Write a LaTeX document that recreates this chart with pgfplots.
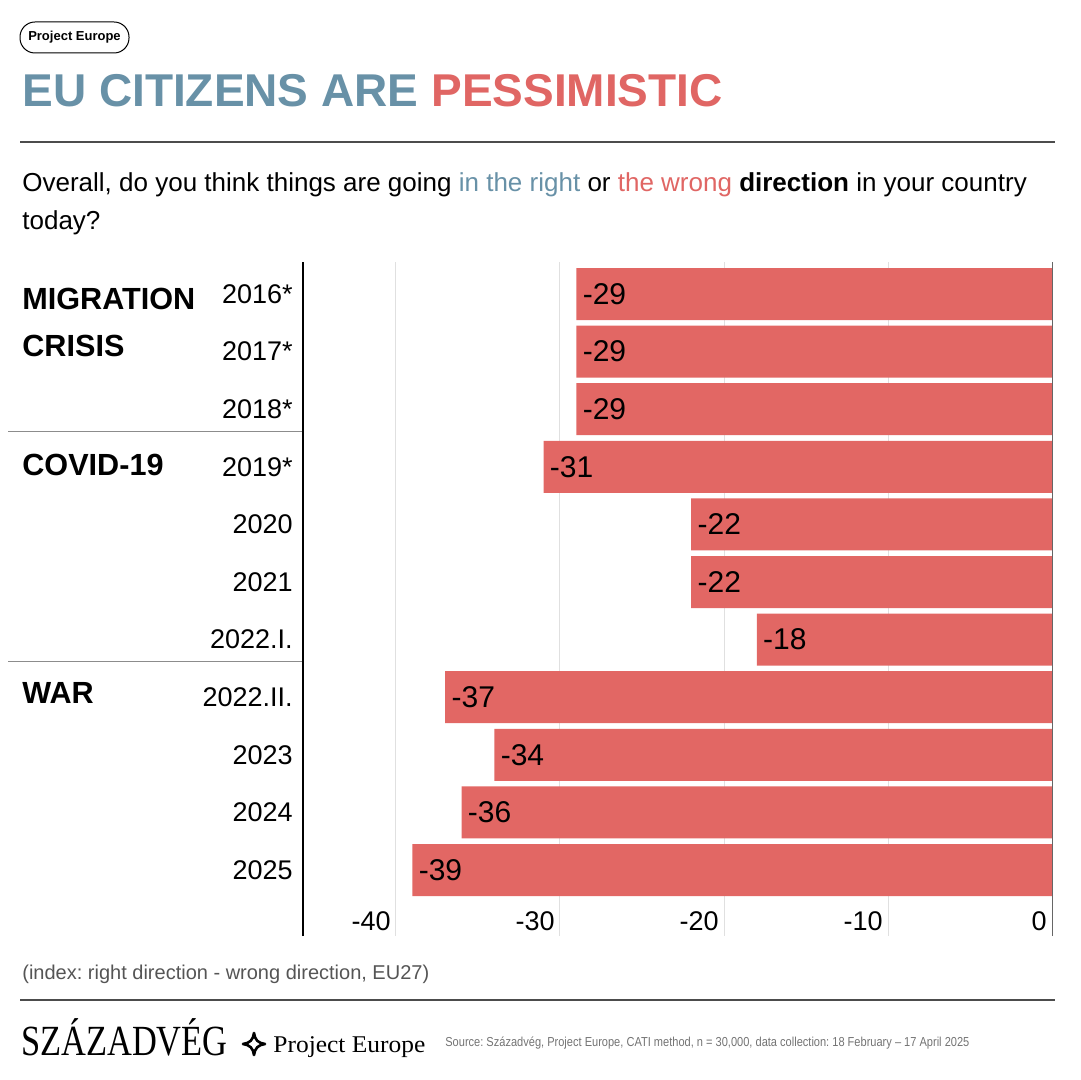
\documentclass[border=0pt]{standalone}
\usepackage{fontspec}
\setmainfont{Liberation Sans}
\newfontfamily\serifcond{Liberation Serif}
\usepackage{pgfplots}
\pgfplotsset{compat=1.18}
\definecolor{tblue}{HTML}{6891A7}
\definecolor{tred}{HTML}{E06664}
\definecolor{barred}{HTML}{E26764}
\definecolor{notegray}{HTML}{555555}
\frenchspacing
\begin{document}
\begin{tikzpicture}
\begin{scope}[x=0.5pt,y=-0.5pt]
\path (0,0) rectangle (1080,1080);
% badge
\draw[black, line width=0.5pt, rounded corners=7.5pt] (20,22) rectangle (129,53);
\node[font=\bfseries\fontsize{6.5}{7}\selectfont, anchor=center, inner sep=0pt] at (74.5,37.5) {Project Europe};
% title
\node[anchor=base west, inner sep=0pt, font=\bfseries\fontsize{23}{27}\selectfont] at (22,107) {\textcolor{tblue}{EU CITIZENS ARE} \textcolor{tred}{PESSIMISTIC}};
\draw[black!70, line width=0.75pt] (20,142) -- (1055,142);
% subtitle
\node[anchor=base west, inner sep=0pt, font=\fontsize{13}{19}\selectfont] at (22,192) {Overall, do you think things are going \textcolor{tblue}{in the right} or \textcolor{tred}{the wrong} \textbf{direction} in your country};
\node[anchor=base west, inner sep=0pt, font=\fontsize{13}{19}\selectfont] at (22,230) {today?};
% group labels
\node[anchor=base west, inner sep=0pt, font=\bfseries\fontsize{15.3}{18}\selectfont] at (22,310) {MIGRATION};
\node[anchor=base west, inner sep=0pt, font=\bfseries\fontsize{15.3}{18}\selectfont] at (22,357) {CRISIS};
\node[anchor=base west, inner sep=0pt, font=\bfseries\fontsize{15.3}{18}\selectfont] at (22,475) {COVID-19};
\node[anchor=base west, inner sep=0pt, font=\bfseries\fontsize{15.3}{18}\selectfont] at (22,703) {WAR};
% separators
\draw[black!45, line width=0.5pt] (8,431) -- (303,431);
\draw[black!45, line width=0.5pt] (8,661) -- (303,661);
% note
\node[anchor=base west, inner sep=0pt, text=notegray, font=\fontsize{10}{11}\selectfont] at (22,979) {(index: right direction - wrong direction, EU27)};
\draw[black!70, line width=0.75pt] (20,1000) -- (1055,1000);
% footer
\node[anchor=base west, inner sep=0pt, xscale=0.8, font=\serifcond\fontsize{21.5}{24}\selectfont] at (21,1055) {SZÁZADVÉG};
\draw[black, line width=1.3pt, line join=round] (254,1033) .. controls (255,1040) and (258,1043) .. (265,1044) .. controls (258,1045) and (255,1048) .. (254,1055) .. controls (253,1048) and (250,1045) .. (243,1044) .. controls (250,1043) and (253,1040) .. cycle;
\node[anchor=base west, inner sep=0pt, xscale=1.06, font=\serifcond\fontsize{12}{14}\selectfont] at (273,1052) {Project Europe};
\node[anchor=base west, inner sep=0pt, xscale=0.85, text=black!55, font=\fontsize{6.5}{7}\selectfont] at (445,1046) {Source: Századvég, Project Europe, CATI method, n = 30,000, data collection: 18 February – 17 April 2025};
\end{scope}
\begin{axis}[
 at={(151.5pt,-131pt)}, anchor=north west,
 scale only axis, width=374.5pt, height=337pt,
 xbar, bar width=26pt,
 xmin=-45.67, xmax=0, ymin=-0.556, ymax=11.146, y dir=reverse,
 axis line style={draw=none},
 xtick={-40,-30,-20,-10,0}, ytick={0,...,10},
 yticklabels={2016*,2017*,2018*,2019*,2020,2021,2022.I.,2022.II.,2023,2024,2025},
 major tick length=0pt, tick style={draw=none},
 xmajorgrids, grid style={black!12, line width=0.5pt},
 /pgf/number format/assume math mode=true,
 x tick label style={font=\fontsize{13.5}{16}\selectfont, anchor=base east, inner sep=0pt, xshift=-2.5pt, yshift=3pt},
 y tick label style={font=\fontsize{13.5}{16}\selectfont, anchor=east, inner sep=0pt, xshift=-5pt},
 nodes near coords,
 every node near coord/.append style={anchor=west, inner sep=0pt, xshift=3pt, font=\fontsize{15}{18}\selectfont, text=black},
 clip=false,
]
\addplot[fill=barred, draw=none] coordinates {(-29,0) (-29,1) (-29,2) (-31,3) (-22,4) (-22,5) (-18,6) (-37,7) (-34,8) (-36,9) (-39,10)};
\draw[black, line width=1pt] (rel axis cs:0,0) -- (rel axis cs:0,1);
\draw[black!60, line width=0.5pt] (rel axis cs:1,0) -- (rel axis cs:1,1);
\end{axis}
\end{tikzpicture}
\end{document}
